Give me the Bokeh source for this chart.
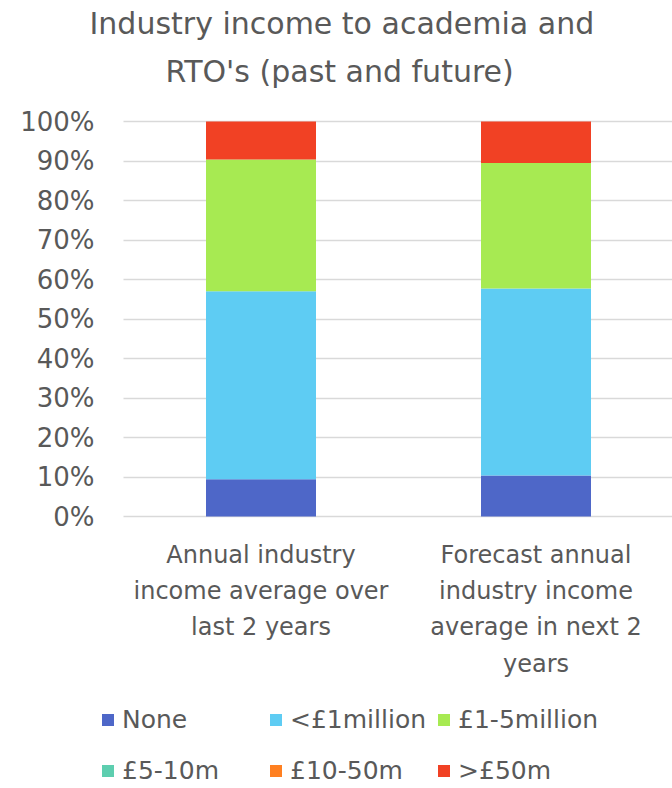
from bokeh.plotting import figure
from bokeh.models import Range1d, FixedTicker, NumeralTickFormatter, Legend, LegendItem, Title
from bokeh.embed import file_html
from bokeh.resources import INLINE

categories = ["Annual industry\nincome average over\nlast 2 years",
              "Forecast annual\nindustry income\naverage in next 2\nyears"]
series = ["None", "<£1million", "£1-5million", "£5-10m", "£10-50m", ">£50m"]
none_v = [0.094, 0.104]
lt1m_v = [0.476, 0.473]
m1_5_v = [0.334, 0.318]
m5_10_v = [0.0, 0.0]
m10_50_v = [0.0, 0.0]
gt50m_v = [0.096, 0.105]
colors = ["#4E67C8", "#5ECCF3", "#A7EA52", "#5DCEAF", "#FF8021", "#F14124"]
y_ticks = [0.0, 0.1, 0.2, 0.3, 0.4, 0.5, 0.6, 0.7, 0.8, 0.9, 1.0]
title_lines = ["Industry income to academia and", "RTO's (past and future)"]

FONT = "DejaVu Sans"
TXT = "#595959"

W, H = 672, 788
plot_left, frame_top, plot_bottom = 123, 98, 516   # pixel layout of the chart area
px_per_unit = 395          # pixels for 0..100 %
cat_px = 275               # pixels per category slot

xs = [i + 0.5 for i in range(len(categories))]
data = dict(x=xs)
for name, vals in zip(series, [none_v, lt1m_v, m1_5_v, m5_10_v, m10_50_v, gt50m_v]):
    data[name] = vals

x_end = (W - plot_left) / cat_px
p = figure(width=W, height=H, output_backend="svg", toolbar_location=None,
           x_range=Range1d(-plot_left / cat_px, x_end),
           y_range=Range1d(-(H - plot_bottom) / px_per_unit,
                           (plot_bottom - frame_top) / px_per_unit),
           min_border_left=0, min_border_top=frame_top,
           min_border_bottom=0, min_border_right=0)
p.outline_line_color = None
p.background_fill_color = "white"
p.border_fill_color = "white"

renderers = p.vbar_stack(series, x="x", width=0.4, source=data, color=colors,
                         line_color=None)

# axes drawn at the chart's origin
p.yaxis.fixed_location = 0
p.yaxis.ticker = FixedTicker(ticks=y_ticks)
p.yaxis.formatter = NumeralTickFormatter(format="0%")
p.yaxis.axis_line_color = None
p.yaxis.major_tick_line_color = None
p.yaxis.minor_tick_line_color = None
p.yaxis.major_label_standoff = 23
p.yaxis.major_label_text_font = FONT
p.yaxis.major_label_text_font_size = "26px"
p.yaxis.major_label_text_color = TXT

p.xaxis.fixed_location = 0
p.xaxis.ticker = FixedTicker(ticks=xs)
p.xaxis.major_label_overrides = {x: c for x, c in zip(xs, categories)}
p.xaxis.axis_line_color = None
p.xaxis.major_tick_line_color = None
p.xaxis.minor_tick_line_color = None
p.xaxis.major_label_standoff = 18
p.xaxis.major_label_text_font = FONT
p.xaxis.major_label_text_font_size = "24px"
p.xaxis.major_label_text_color = TXT
p.xaxis.major_label_text_line_height = 1.3

p.xgrid.grid_line_color = None
p.ygrid.ticker = FixedTicker(ticks=y_ticks)
p.ygrid.grid_line_color = "#D9D9D9"
p.ygrid.grid_line_width = 1.5
try:
    p.ygrid.cross_bounds = (0, x_end)
except AttributeError:
    p.ygrid.visible = False
    p.segment(x0=0, x1=x_end, y0=y_ticks, y1=y_ticks, line_color="#D9D9D9",
              line_width=1.5, level="underlay")

# title (two lines, each centred over the chart)
p.add_layout(Title(text=title_lines[1], align="left", offset=42 + plot_left, standoff=19,
                   text_font=FONT, text_font_size="30px", text_color=TXT,
                   text_font_style="normal"), "above")
p.add_layout(Title(text=title_lines[0], align="left", offset=-34 + plot_left, standoff=3,
                   text_font=FONT, text_font_size="30px", text_color=TXT,
                   text_font_style="normal"), "above")

legend = Legend(items=[LegendItem(label=s, renderers=[r]) for s, r in zip(series, renderers)],
                location=(100, -3),
                orientation="horizontal", ncols=3,
                glyph_width=15, glyph_height=15, label_standoff=7,
                label_width=136, label_height=41, spacing=10,
                padding=0, margin=0, border_line_color=None,
                background_fill_alpha=0,
                label_text_font=FONT, label_text_font_size="25px",
                label_text_color=TXT)
p.add_layout(legend, "center")

open("out.html", "w").write(file_html(p, INLINE))
